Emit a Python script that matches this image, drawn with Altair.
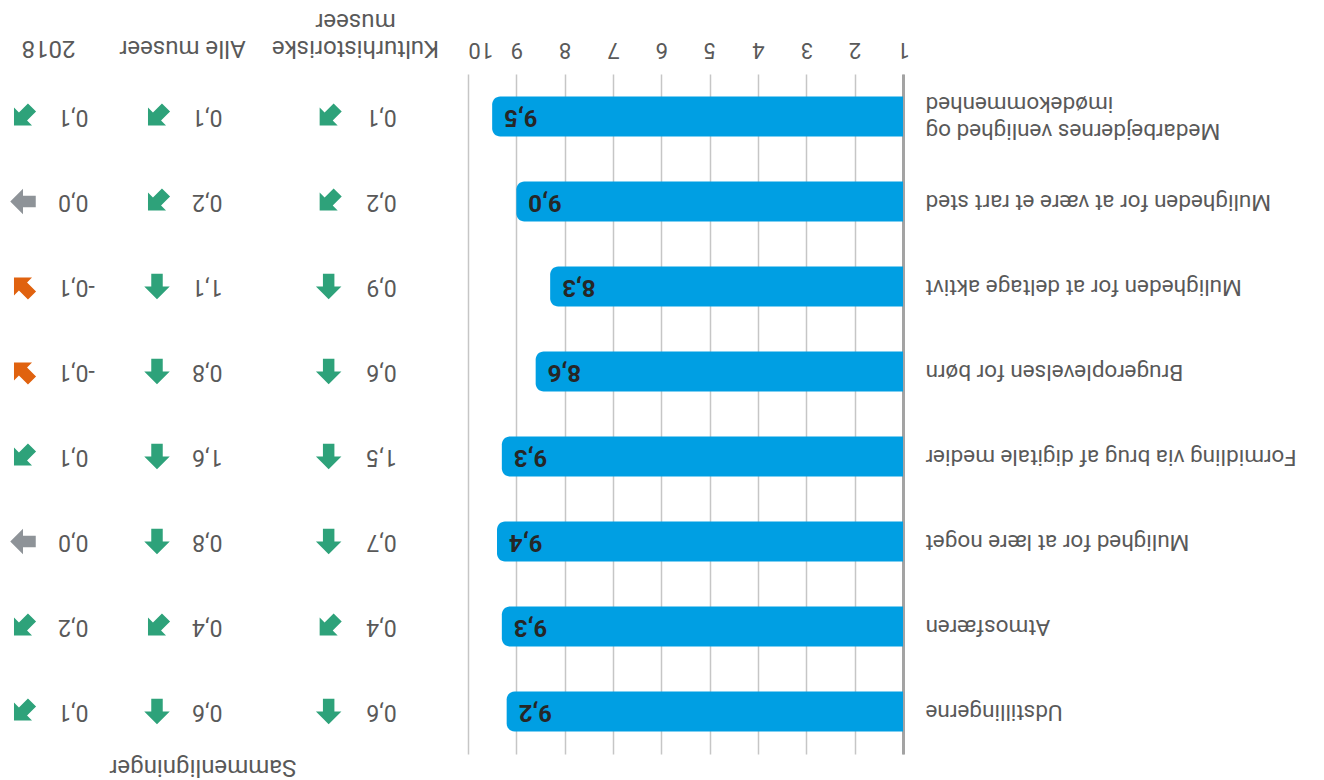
import altair as alt
import pandas as pd

# ---- data (original reading order, top to bottom before the 180° turn) ----
categories = [
    "Udstillingerne",
    "Atmosfæren",
    "Mulighed for at lære noget",
    "Formidling via brug af digitale medier",
    "Brugeroplevelsen for børn",
    "Muligheden for at deltage aktivt",
    "Muligheden for at være et rart sted",
    "Medarbejdernes venlighed og|imødekommenhed",
]
scores = [9.2, 9.3, 9.4, 9.3, 8.6, 8.3, 9.0, 9.5]
kultur = [0.6, 0.4, 0.7, 1.5, 0.6, 0.9, 0.2, 0.1]
alle = [0.6, 0.4, 0.8, 1.6, 0.8, 1.1, 0.2, 0.1]
aar2018 = [0.1, 0.2, 0.0, 0.1, -0.1, -0.1, 0.0, 0.1]
headers = [["Kulturhistoriske", "museer"], "Alle museer", "2018"]
axis_values = [1, 2, 3, 4, 5, 6, 7, 8, 9, 10]
group_title = "Sammenligninger"

order = categories[::-1]          # the whole picture is turned upside down
FONT = "Roboto"
TXT = "#595959"
GREEN, GREY, ORANGE = "#2ea27a", "#8e9398", "#e0620f"
BLUE = "#009fe3"
ARROW = "M0,-1L1,0L0.45,0L0.45,1L-0.45,1L-0.45,0L-1,0Z"
ROW_H = 680
NOVIEW = alt.ViewBackground(stroke="transparent", strokeWidth=0)


def fmt(v):
    return f"{v:.1f}".replace(".", ",")


def direction(v):
    if v >= 0.5:
        return 0, "pos"
    if v > 0:
        return 45, "pos"
    if v == 0:
        return 90, "zero"
    return 135, "neg"


y_scale = alt.Scale(paddingInner=0, paddingOuter=0)


def comp_panel(values, header, width, pad, title=None):
    dirs = [direction(v) for v in values]
    df = pd.DataFrame({
        "cat": categories,
        "val": values,
        "txt": [fmt(v) for v in values],
        "ang": [d[0] + 180 for d in dirs],
        "sign": [d[1] for d in dirs],
        "ka": "arrow",
        "kn": "num",
    })
    xs = alt.Scale(type="point", domain=["arrow", "num"], padding=pad)
    ax = alt.Axis(orient="top", labels=False, ticks=False, domain=False, grid=False,
                  title=header, titleAngle=180, titleBaseline="top", titleAlign="center",
                  titleY=-14.5, titleFontSize=24, titleFont=FONT, titleColor=TXT,
                  titleFontWeight="normal", titleLineHeight=27)
    y = alt.Y("cat:N", sort=order, scale=y_scale, axis=None)
    base = alt.Chart(df)
    arrows = base.mark_point(shape=ARROW, filled=True, size=650, opacity=1, strokeWidth=0).encode(
        x=alt.X("ka:N", scale=xs, axis=ax),
        y=y,
        angle=alt.Angle("ang:Q", scale=None),
        color=alt.Color("sign:N", scale=alt.Scale(domain=["pos", "zero", "neg"],
                                                  range=[GREEN, GREY, ORANGE]), legend=None),
    )
    nums = base.mark_text(angle=180, align="right", baseline="middle", dx=15,
                          fontSize=23, font=FONT, color=TXT).encode(
        x=alt.X("kn:N", scale=xs, axis=ax),
        y=y,
        text="txt:N",
    )
    ch = alt.layer(arrows, nums).properties(width=width, height=ROW_H, view=NOVIEW)
    if title is not None:
        ch = ch.properties(title=title)
    return ch


p3 = comp_panel(aar2018, headers[2], 80, 0.3)
p2 = comp_panel(alle, headers[1], 120, 0.7,
                title=alt.TitleParams(group_title, orient="bottom", angle=180, baseline="bottom",
                                      anchor="middle", offset=1, fontSize=24, fontWeight="normal",
                                      color=TXT, font=FONT, dx=-21))
p1 = comp_panel(kultur, headers[0], 158, 1.08)

bars_df = pd.DataFrame({
    "cat": categories,
    "score": scores,
    "base": [1] * len(scores),
    "lbl": [fmt(v) for v in scores],
})
x_scale = alt.Scale(domain=[1, 10], reverse=True, nice=False, zero=False)
x_axis = alt.Axis(orient="top", values=axis_values, format="d", labelAngle=180,
                  labelBaseline="top",
                  labelAlign={"condition": {"test": "datum.value == 10", "value": "right"},
                              "value": "center"},
                  labelPadding=15, ticks=False,
                  tickSize=0, domain=False, grid=True, gridColor="#c6c6c6", gridWidth=1.5,
                  labelFontSize=22, labelFont=FONT, labelColor=TXT, labelFlush=False,
                  labelOverlap=False, title=None)
y_axis = alt.Axis(orient="right", labelAngle=180, labelAlign="right", labelBaseline="middle",
                  labelPadding=22, labelFontSize=22.5, labelFont=FONT, labelColor=TXT,
                  labelLimit=500, labelExpr="split(datum.label, '|')", labelLineHeight=27,
                  labelOffset={"condition": {"test": "indexof(datum.value, '|') >= 0", "value": 14},
                               "value": 0},
                  domain=True, domainColor="#a3a3a3", domainWidth=3, ticks=False,
                  grid=False, title=None)

bbase = alt.Chart(bars_df)
bars = bbase.mark_bar(size=40, color=BLUE, cornerRadiusTopLeft=8,
                      cornerRadiusBottomLeft=8).encode(
    x=alt.X("score:Q", scale=x_scale, axis=x_axis),
    x2="base:Q",
    y=alt.Y("cat:N", sort=order, scale=y_scale, axis=y_axis),
)
blabels = bbase.mark_text(angle=180, align="right", baseline="middle", dx=-12,
                          fontSize=24, font=FONT, fontWeight="bold", color="#262626").encode(
    x=alt.X("score:Q", scale=x_scale, axis=x_axis),
    y=alt.Y("cat:N", sort=order, scale=y_scale, axis=y_axis),
    text="lbl:N",
)
bar_panel = alt.layer(bars, blabels).properties(width=435, height=ROW_H, view=NOVIEW)

chart = alt.hconcat(p3, p2, p1, bar_panel, spacing=34, bounds="flush").properties(
    padding=0
).configure_view(stroke="transparent", strokeWidth=0).configure(font=FONT)

chart.save("out.html", embed_options={"renderer": "svg", "actions": False})
